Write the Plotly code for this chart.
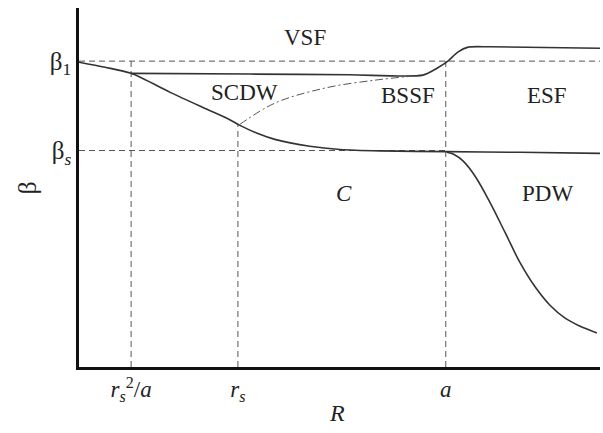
import plotly.graph_objects as go

# Key positions (abstract units)
R_tick_vals = [1.0, 3.05, 7.04]          # r_s^2/a, r_s, a
R_tick_text = ["<i>r<sub>s</sub></i><sup>2</sup>/<i>a</i>", "<i>r<sub>s</sub></i>", "<i>a</i>"]
beta_tick_vals = [6.03, 8.52]             # beta_s, beta_1
beta_tick_text = ["β<i><sub>s</sub></i>", "β<sub>1</sub>"]

# Lower boundary (SCDW / C)
low_R = [0.0, 0.5, 1.0, 1.75, 2.38, 2.84, 3.09, 3.42, 3.76, 4.43, 5.01, 5.78, 7.04, 8.46, 10.0]
low_b = [8.49, 8.35, 8.18, 7.65, 7.23, 6.93, 6.73, 6.51, 6.34, 6.15, 6.06, 6.02, 6.0, 5.98, 5.95]

# Upper boundary (VSF)
up_R = [1.0, 3.28, 5.20, 6.60, 6.87, 7.08, 7.27, 7.47, 7.89, 10.0]
up_b = [8.18, 8.16, 8.14, 8.13, 8.32, 8.52, 8.77, 8.91, 8.92, 8.88]

# Dash-dot boundary (SCDW / BSSF)
dd_R = [3.09, 3.76, 4.72, 5.68, 6.39]
dd_b = [6.76, 7.35, 7.77, 7.99, 8.10]

# PDW boundary
pdw_R = [7.06, 7.20, 7.37, 7.60, 7.89, 8.18, 8.46, 8.75, 9.04, 9.33, 9.60, 9.94]
pdw_b = [5.98, 5.92, 5.74, 5.32, 4.58, 3.74, 2.92, 2.24, 1.72, 1.36, 1.15, 0.95]

# Region labels
lab_text = ["VSF", "SCDW", "BSSF", "ESF", "<i>C</i>", "PDW"]
lab_R = [4.34, 3.17, 6.32, 8.98, 5.08, 9.0]
lab_b = [9.18, 7.65, 7.57, 7.57, 4.83, 4.83]

beta_1 = beta_tick_vals[1]
beta_s = beta_tick_vals[0]
r_s2a, r_s, a_val = R_tick_vals

fig = go.Figure()
solid = dict(color="#333333", width=1.6)
dashed = dict(color="#555555", width=1, dash="6px,4px")

# dashed guides
fig.add_trace(go.Scatter(x=[0, 10], y=[beta_1, beta_1], mode="lines", line=dashed))
fig.add_trace(go.Scatter(x=[0, a_val], y=[beta_s, beta_s], mode="lines", line=dashed))
fig.add_trace(go.Scatter(x=[r_s2a, r_s2a], y=[0, beta_1], mode="lines", line=dashed))
fig.add_trace(go.Scatter(x=[r_s, r_s], y=[0, 6.76], mode="lines", line=dashed))
fig.add_trace(go.Scatter(x=[a_val, a_val], y=[0, beta_1], mode="lines", line=dashed))

fig.add_trace(go.Scatter(x=low_R, y=low_b, mode="lines", line=dict(solid, shape="spline", smoothing=0.8)))
fig.add_trace(go.Scatter(x=up_R, y=up_b, mode="lines", line=dict(solid, shape="spline", smoothing=0.7)))
fig.add_trace(go.Scatter(x=dd_R, y=dd_b, mode="lines",
                         line=dict(color="#555555", width=1, dash="8px,3px,2px,3px", shape="spline")))
fig.add_trace(go.Scatter(x=pdw_R, y=pdw_b, mode="lines", line=dict(solid, shape="spline", smoothing=1.0)))

for t, x, y in zip(lab_text, lab_R, lab_b):
    fig.add_annotation(x=x, y=y, text=t, showarrow=False,
                       font=dict(family="Liberation Serif", size=23, color="#222222"))

fig.add_annotation(xref="paper", yref="paper", x=0.495, y=-0.128, text="<i>R</i>", showarrow=False,
                   yanchor="middle", font=dict(family="Liberation Serif", size=24, color="#222222"))
fig.add_annotation(xref="paper", yref="paper", x=-0.098, y=0.5, text="β", showarrow=False,
                   textangle=-90, xanchor="center",
                   font=dict(family="Liberation Serif", size=26, color="#222222"))

fig.update_xaxes(range=[0, 10], showgrid=False, zeroline=False, showline=True, linecolor="#111111",
                 linewidth=2.5, tickvals=R_tick_vals, ticktext=R_tick_text, ticks="",
                 tickfont=dict(family="Liberation Serif", size=23, color="#222222"))
fig.update_yaxes(range=[0, 10], showgrid=False, zeroline=False, showline=True, linecolor="#111111",
                 linewidth=2.5, tickvals=beta_tick_vals, ticktext=beta_tick_text, ticks="",
                 tickfont=dict(family="Liberation Serif", size=25, color="#222222"))

fig.update_layout(width=603, height=433, margin=dict(l=79, r=3, t=8, b=66),
                  plot_bgcolor="white", paper_bgcolor="white", showlegend=False)

fig.write_html("out.html", config={"displayModeBar": False},
               post_script="document.body.style.margin='0';document.body.style.overflow='hidden';")
